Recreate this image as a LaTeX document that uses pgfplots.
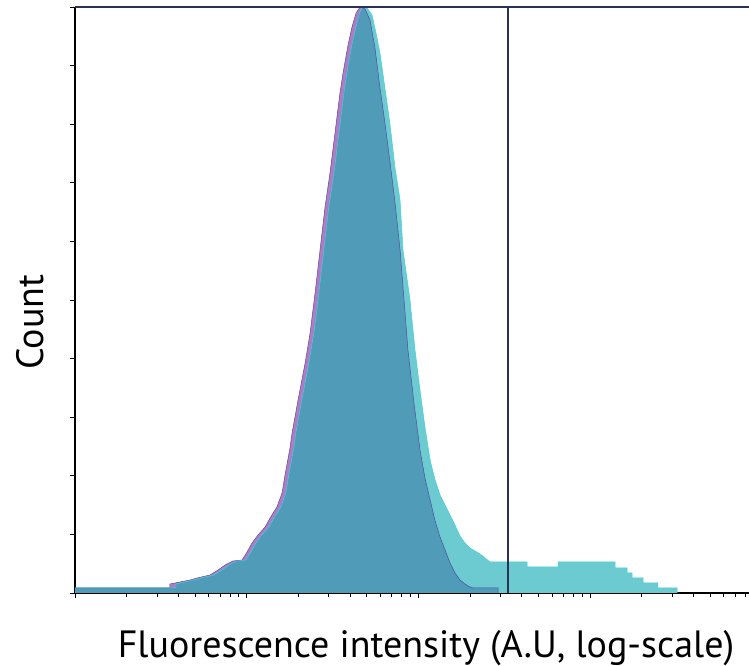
\documentclass[border=0pt]{standalone}
\usepackage{pgfplots}
\pgfplotsset{compat=1.18}
\usepackage{pgfplotstable}
\usepackage{fontspec}
\setmainfont{PT Sans}
\definecolor{cyanfill}{HTML}{6CCBD1}
\definecolor{purpfill}{HTML}{B07BC2}
\definecolor{overfill}{HTML}{4F9BB8}
\definecolor{purpline}{HTML}{5050A0}
\definecolor{cyanline}{HTML}{40D0E0}
\definecolor{gate}{HTML}{2B3057}

% lg = log10 fluorescence intensity, n = count
\pgfplotstableread{
lg n
0.000 5
0.588 5
0.588 9
0.692 13
0.733 15
0.809 18
0.855 23
0.896 28
0.943 32
0.995 33
1.024 41
1.053 50
1.088 58
1.129 66
1.158 75
1.199 86
1.228 100
1.245 118
1.274 145
1.286 160
1.321 193
1.362 230
1.391 260
1.420 300
1.449 343
1.478 386
1.508 420
1.537 460
1.566 500
1.583 520
1.612 548
1.636 566
1.657 580
1.672 586
1.701 585
1.730 578
1.753 560
1.776 540
1.805 505
1.835 468
1.864 425
1.893 393
1.910 343
1.951 293
1.980 243
2.009 203
2.038 166
2.068 133
2.097 113
2.126 98
2.155 88
2.184 78
2.213 68
2.242 57
2.271 50
2.300 45
2.330 42
2.359 39
2.388 35
2.417 31
2.633 31
2.633 26
2.813 26
2.813 31
3.145 31
3.145 25
3.215 25
3.215 20
3.244 20
3.244 15
3.308 15
3.308 10
3.395 10
3.395 5
3.506 5
3.506 0
}\cyantab

\pgfplotstableread{
lg n
0.000 5
0.553 5
0.553 9
0.670 13
0.711 15
0.786 18
0.833 23
0.874 28
0.920 32
0.973 33
1.002 41
1.031 50
1.066 58
1.107 66
1.136 75
1.176 86
1.206 100
1.223 118
1.252 145
1.264 160
1.299 193
1.340 230
1.369 260
1.398 300
1.427 343
1.456 386
1.485 420
1.514 460
1.543 500
1.561 520
1.590 548
1.613 566
1.637 580
1.660 586
1.689 584
1.718 573
1.747 545
1.776 505
1.805 470
1.835 430
1.864 390
1.893 343
1.916 293
1.939 243
1.974 190
2.009 143
2.038 115
2.068 93
2.097 72
2.126 56
2.155 43
2.184 30
2.213 20
2.242 13
2.271 9
2.300 6
2.318 5
2.464 5
2.464 0
}\purptab

% overlap of both histograms
\pgfplotstableread{
lg n
0.000 5
0.588 5
0.588 9
0.692 13
0.733 15
0.809 18
0.855 23
0.896 28
0.943 32
0.995 33
1.024 41
1.053 50
1.088 58
1.129 66
1.158 75
1.199 86
1.228 100
1.245 118
1.274 145
1.286 160
1.321 193
1.362 230
1.391 260
1.420 300
1.449 343
1.478 386
1.508 420
1.537 460
1.566 500
1.583 520
1.612 548
1.636 566
1.657 580
1.672 584
1.689 584
1.718 573
1.747 545
1.776 505
1.805 470
1.835 430
1.864 390
1.893 343
1.916 293
1.939 243
1.974 190
2.009 143
2.038 115
2.068 93
2.097 72
2.126 56
2.155 43
2.184 30
2.213 20
2.242 13
2.271 9
2.300 6
2.318 5
2.464 5
2.464 0
}\overtab

\begin{document}
\begin{tikzpicture}
\begin{axis}[
  at={(0pt,0pt)}, anchor=south west,
  width=674pt, height=586pt, scale only axis,
  xmode=log, xmin=1, xmax=8414, ymin=0, ymax=586,
  axis lines*=left,
  axis line style={-, line width=1.4pt, black},
  xticklabels={}, yticklabels={},
  ytick={0,58.6,117.2,175.8,234.4,293,351.6,410.2,468.8,527.4,586},
  tick align=outside, tick pos=left,
  major tick length=5pt, minor tick length=4pt,
  every tick/.style={black, line width=0.8pt},
  clip=false,
]
\addplot[fill=cyanfill, draw=none] table[x expr={10^(\thisrow{lg})}, y=n] {\cyantab} \closedcycle;
\addplot[fill=purpfill, draw=none] table[x expr={10^(\thisrow{lg})}, y=n] {\purptab} \closedcycle;
\addplot[fill=overfill, draw=none] table[x expr={10^(\thisrow{lg})}, y=n] {\overtab} \closedcycle;
\addplot[purpline, line width=0.5pt] table[x expr={10^(\thisrow{lg})}, y=n] {\purptab};
\addplot[cyanline, line width=0.5pt] table[x expr={10^(\thisrow{lg})}, y=n] {\cyantab};
\addplot[gate, line width=1.5pt] coordinates {(333,0) (333,586)};
\addplot[gate, line width=2.5pt] coordinates {(1,586) (8414,586)};
\end{axis}
\node[rotate=90, anchor=center, font=\fontsize{38}{44}\selectfont] at (-45pt,271pt) {Count};
\node[anchor=base, font=\fontsize{38}{44}\selectfont] at (351pt,-64pt) {Fluorescence intensity (A.U, log-scale)};
\pgfresetboundingbox
\path[use as bounding box] (-75pt,-73pt) rectangle (674pt,593pt);
\end{tikzpicture}
\end{document}
